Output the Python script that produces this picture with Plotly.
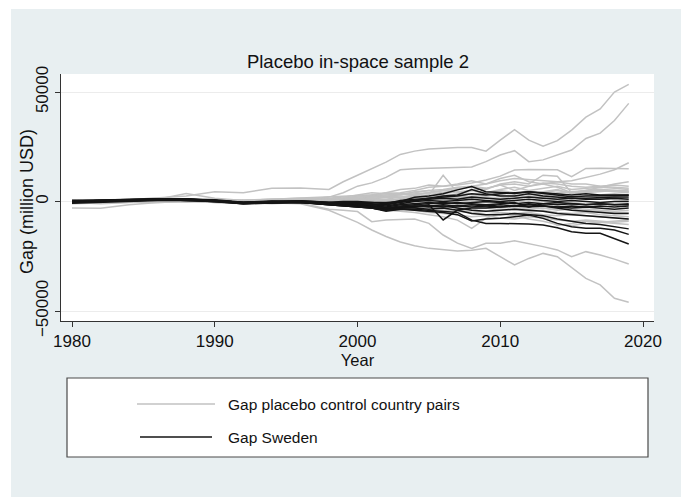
import plotly.graph_objects as go

# ---------------- data (values in thousand million USD) ----------------
years = [1980, 1982, 1984, 1986, 1988, 1990, 1992, 1994, 1996, 1998,
         1999, 2000, 2001, 2002, 2003, 2004, 2005, 2006, 2007, 2008,
         2009, 2010, 2011, 2012, 2013, 2014, 2015, 2016, 2017, 2018, 2019]

placebo_gaps = [
    [0.5, 0.3, 0.8, 1.5, 2.5, 4.5, 4.0, 6.0, 6.2, 5.5, 9, 12, 15, 18, 21.5, 23, 24, 24.5, 24.7, 24.7, 23, 28, 32.8, 28, 25.3, 27.8, 32.6, 38.5, 42.3, 50, 53.5],
    [-0.5, 0, 0.5, 0.8, 0.3, 0, -0.5, 0, 0.5, 2, 4, 7, 8.5, 11, 14.5, 15, 15.2, 15.1, 15.4, 15.8, 18.2, 21.2, 23.2, 18.2, 19, 21.2, 23.5, 28.8, 31.2, 37, 44.8],
    [0.3, 0.5, 0.2, -0.3, 0.5, 1, 0.5, 0.2, 0.8, 1, 1.5, 2, 2.5, 3, 3.5, 4, 5, 5.5, 6.5, 7, 8, 9.5, 10.5, 10, 9.5, 9, 9.5, 11, 12.5, 14.5, 17.7],
    [-0.3, 0.2, 0.5, 0.3, -0.2, 0.3, 0.8, 1, 0.5, 1.5, 2, 3, 4, 3.5, 4, 5, 6.5, 7, 7.5, 8.5, 9.8, 11.6, 14.4, 14.6, 14.7, 14.5, 11.3, 15.1, 15.2, 15, 15],
    [0.2, -0.3, 0.3, 0.5, 0.8, 0.2, -0.2, 0.5, 1, 0.5, 1, 1.5, 2, 2.5, 3, 3.5, 4, 5, 6, 6.5, 5.5, 8, 9, 8, 12, 11.5, 4, 5, 6.5, 8, 9],
    [-0.5, -0.2, 0.3, 0.2, 0.5, -0.3, 0.2, 0.5, 0.3, 0.5, 0.5, 1, 1, 0.5, 1, 2, 3, 12, 4, 5, 6, 7.5, 5, 7, 8, 6.5, 4, 5, 5.5, 5, 4.5],
    [0, -0.5, 0.5, 1, 3.7, 1.5, 0.5, 1, 1.5, 2, 2.5, 2.5, 3, 4, 5.5, 6, 7.5, 7, 8, 9.5, 8, 10.5, 12, 9, 8, 9, 8, 8, 7, 6.5, 6],
    [0.5, 0.8, 0.3, 0.5, 1, 0.5, 0, 0.3, 0.8, 1, 1.5, 1, 2, 2.5, 2, 3, 4, 3.5, 4.5, 5, 4, 5.5, 6.5, 5, 6, 7, 5.5, 6, 6.5, 6, 5.5],
    [-0.3, 0, 0.5, 0.8, 0.3, -0.2, -0.5, 0.2, 0.5, 0.3, 0.5, 1, 1.5, 1, 2, 2.5, 2, 3, 2.5, 3.5, 3, 4, 3.5, 4.5, 4, 5, 4, 4.5, 5, 4.5, 4],
    [0.8, 0.5, 0.2, 0.5, 1.2, 0.8, 0.3, 0.5, 0.2, 0.8, 1, 1.5, 1, 0.5, 1, 1.5, 2, 1.5, 2.5, 2, 3, 2.5, 3, 2, 2.5, 3, 2, 2.5, 3, 3.5, 3],
    [-1, -0.8, -0.3, 0, 0.5, 0.2, -0.3, -0.5, 0, -0.5, -0.5, 0, 0.5, 1, 0.5, 1, 1.5, 1, 2, 1.5, 2, 1.5, 2.5, 2, 1.5, 2, 1.5, 1, 1.5, 1, 0.5],
    [-3, -3.1, -1.5, -0.5, 0, -0.3, -0.8, -0.3, -0.5, -1, -1, -0.5, 0, -0.5, 0, 0.5, 0, 1, 0.5, 0, -0.5, 0, 0.5, -0.5, 0, -1, -0.5, -1, -1.5, -1, -1.5],
    [0.3, 0.5, 1, 1.5, 1, 0.5, 0, 0.5, 1, 0.5, 0, -0.5, -1, -1.5, -1, -2, -1.5, -2, -2.5, -2, -3, -2.5, -3, -3.5, -3, -4, -3.5, -4, -4.5, -5, -5],
    [-0.5, -1, -0.5, 0, 0.5, 0, -0.5, -1, -0.5, -1, -1.5, -2, -2.5, -2, -3, -3.5, -3, -4, -4.5, -5, -4.5, -5, -5.5, -5, -6, -6.5, -6, -6.5, -7, -7.5, -8],
    [0, -0.5, 0.3, 0.5, 0.2, -0.3, -0.5, 0, -0.3, -0.5, -1, -1.5, -3, -4, -4.5, -5, -6, -7, -8.5, -12.3, -7.7, -5.5, -6.5, -8, -9, -10.5, -11, -10, -9.5, -9, -8.5],
    [-0.5, -0.3, 0, 0.5, 0.3, 0, -0.5, -0.3, -0.8, -3.5, -4, -4.6, -9.2, -8.5, -8.2, -8, -10, -15.3, -19, -21.4, -19.1, -19.1, -17.9, -19.1, -20.6, -22.1, -25.2, -22.9, -24.4, -26.3, -28.5],
    [0.3, 0, -0.3, 0.2, 0.5, 0, -0.3, -0.5, -1, -4, -6.9, -9.5, -13, -16, -18.5, -20.2, -21.4, -22.1, -22.6, -22.3, -21.4, -25.2, -29, -26, -23.7, -25.2, -30, -35.1, -38.1, -44.2, -46],
    [0, 0.3, -0.3, -0.5, 0, 0.5, 0, -0.5, -0.3, -1, -1.5, -2.5, -3, -3.5, -3, -4, -5, -5.5, -6, -7, -6.5, -7.5, -8, -7, -7.5, -8.5, -9, -8.5, -9, -9.5, -9],
    [0.5, 0.2, 0, 0.3, 0.8, 0.3, 0, 0.2, 0.5, 0, -0.5, -1, -0.5, -1.5, -2, -1.5, -2.5, -2, -3, -3.5, -3, -4, -3.5, -4.5, -4, -5, -5.5, -5, -6, -6.5, -7],
    [-0.8, -0.5, 0, 0.3, 0.5, 0, 0.2, 0, 0.3, 0.5, 1, 0.5, 0, -0.5, 0.5, 0, 1, 0.5, 1.5, 1, 2, 1, 1.5, 2.5, 2, 1, 1.5, 2, 2.5, 2, 1.5],
    [0.2, 0.5, 0.8, 0.5, 0.3, 0.8, 0.5, 1, 1.5, 1, 1.5, 2.5, 3, 3.5, 3, 4.5, 5, 4, 5.5, 7, 6, 7.5, 8, 7, 8.5, 8, 7, 6.5, 7, 7.5, 7],
    [0, 0.3, 0.5, 0.2, 0.5, 0.3, -0.2, 0.2, 0, 0.5, 1, 2, 2.5, 4, 3.5, 3, 4, 5, 4.5, 3.5, 4, 5, 4, 3, 4.5, 5.5, 3.5, 4, 4.5, 5, 4.5],
    [-0.3, -0.5, -0.2, 0, 0.3, -0.5, -1, -0.5, 0, -0.5, -1, -1.5, -2, -3, -2.5, -3, -3.5, -4, -3.5, -5, -6, -5.5, -6, -5, -7, -11, -10, -9, -9.5, -10, -10.5],
    [0.5, 0.3, 0.5, 0.8, 0.5, 0.2, 0.5, 0.3, 0.5, 0.8, 0.5, 0.8, 1.5, 2, 1.5, 2.5, 3, 2.5, 3.5, 3, 2.5, 3.5, 4, 3.5, 3, 4, 4.5, 5, 5.5, 5, 5],
    [-0.5, -0.3, 0, 0.5, 0.8, 0.5, 0, -0.2, 0.3, 0, -0.5, -0.8, -1, -0.5, -1.5, -1, -2, -2.5, -2, -1.5, -2.5, -3, -2.5, -2, -3, -3.5, -3, -3.5, -4, -4.5, -4],
]

sweden_gaps = [
    [-0.5, 0, 0.5, 1, 0.5, 0.3, -0.8, -0.5, -0.3, -1.5, -2, -2.5, -3, -4.5, -3.5, -3.5, -4, -4.5, -5, -8.5, -10, -10, -10, -10.3, -10.7, -12, -13.8, -14.5, -14.5, -16.8, -19.4],
    [0.3, 0.5, 1, 1.2, 0.8, 0, -1, -0.3, -0.5, -1.5, -2, -2.5, -3, -4, -3.5, -4, -4.5, -5, -6, -8.9, -8, -7.7, -7, -6.2, -7.7, -10, -11.5, -12.2, -12.2, -13, -15],
    [-0.3, 0.2, 0.8, 0.8, 1, 0.5, -0.5, -0.5, 0, -1, -1.5, -1.5, -2.5, -3.5, -3, -3, -3.5, -3, -4, -5.5, -6, -6, -5.5, -6, -6.5, -8, -9, -10, -10.5, -11.5, -12.5],
    [0, 0.5, 0.5, 1, 1.2, 0.3, -0.8, -0.2, -0.2, -0.8, -1, -1.5, -2, -3, -2.5, -2, -2.5, -2, -3, -4, -4.5, -4, -3.5, -4, -4.5, -5.5, -6, -6.5, -7, -7.5, -8],
    [0.5, 0.3, 0.8, 1.2, 0.8, 0.5, -0.5, 0, -0.5, -1, -1.5, -1.5, -2, -3, -3, -2.5, -1.5, -8.4, -3.9, -3, -3, -2.5, -2, -1, -2, -3, -4, -4.5, -5, -5.5, -5.5],
    [-0.5, 0, 0.3, 0.8, 1, 0.2, -1, -0.5, -0.3, -1.2, -1.5, -2, -2.5, -3.5, -2.5, -2, -2, -1.5, -2, -2.5, -2, -1.5, -2, -2.5, -2, -2.5, -3, -2.5, -3, -3.5, -3],
    [0, 0.5, 0.5, 0.8, 0.8, 0.3, -0.8, -0.3, 0, -0.5, -1, -1.2, -2, -2.5, -1.5, -1, -0.5, -1, -0.5, -1, -1.5, -1, -0.5, -2.5, -1, -1.5, -1, -1.5, -1, -1.5, -1.5],
    [-0.2, 0.3, 0.8, 1, 0.5, 0, -0.6, -0.2, -0.2, -0.8, -1, -1, -1.5, -2, -1, 0, 0.5, 0, 0.5, 1, 0.5, 0, 0.5, 1, 0.5, 0, 0.5, 0, -0.5, 0, 0],
    [0.3, 0.3, 0.5, 0.8, 0.8, 0.5, -0.5, -0.3, 0.3, -0.5, -0.5, -1, -1, -1.5, -0.5, 0.5, 1, 1.5, 1, 2, 1.5, 1, 1.5, 2, 1.5, 1, 1.5, 1, 1, 1.5, 1],
    [-0.3, 0, 0.3, 0.5, 1, 0.3, -0.8, -0.5, -0.2, -1, -1, -1, -1.5, -1.5, 0, 0.5, 1.5, 2.5, 3, 5.5, 3.5, 2.5, 2.5, 3.5, 2.5, 2, 1.5, 1.5, 1.8, 2, 2],
    [0, 0.5, 0.3, 0.8, 1.2, 0.5, -0.5, 0, 0, -0.8, -0.5, -0.5, -0.5, -0.5, 0, 1.9, 2.5, 3.5, 5.3, 6.8, 4.5, 4, 3.7, 4.5, 3.7, 3, 2.2, 2.5, 2.5, 2.8, 2.8],
    [0.2, 0.5, 0.8, 1.2, 1, 0.8, -0.3, 0.2, 0.3, -0.3, 0, 0, -0.5, -1, 0.5, 1, 1.5, 2, 2.5, 3.5, 3, 3.5, 4, 4.5, 4, 3.5, 3, 3.5, 3, 3, 3],
    [-0.8, -0.3, 0.2, 0.5, 0.5, 0, -1, -0.6, -0.5, -1.5, -2, -2.5, -3, -4, -3, -2.5, -2, -2.5, -2, -1.5, -2, -2.5, -2, -1.5, -2, -2.5, -2, -2.5, -2, -2.5, -2],
    [0.5, 0.3, 0.5, 1, 0.8, 0.5, -0.4, 0, -0.2, -1, -1.5, -1.8, -2.5, -3, -2, -1.5, -1, -0.5, -1, -0.5, 0, -0.5, -1, -0.5, -1, -0.5, -1, -1.5, -1, -1.5, -1],
]

x_ticks = [1980, 1990, 2000, 2010, 2020]
y_ticks = [-50000, 0, 50000]
legend_labels = ["Gap placebo control country pairs", "Gap Sweden"]

# ---------------- style ----------------
BG = "#e8eff1"
GRAY = "#c2c2c2"
BLACK = "#151515"
FONT = "Liberation Sans, Arial, Helvetica, sans-serif"
TXT = "#111111"

# plot area in pixels (681 x 497 page)
L, R, T, B = 61, 654, 74, 321
W, H = 681, 497
pw, ph = R - L, B - T


def px_x(px):
    return (px - L) / pw


def px_y(py):
    return (B - py) / ph


fig = go.Figure()

for s in placebo_gaps:
    fig.add_trace(go.Scatter(x=years, y=[v * 1000 for v in s], mode="lines",
                             line=dict(color=GRAY, width=1.5),
                             showlegend=False, hoverinfo="skip"))
for s in sweden_gaps:
    fig.add_trace(go.Scatter(x=years, y=[v * 1000 for v in s], mode="lines",
                             line=dict(color=BLACK, width=1.5),
                             showlegend=False, hoverinfo="skip"))

shapes = [
    # white strips at top and left of the page
    dict(type="rect", xref="paper", yref="paper", x0=px_x(-5), x1=px_x(11),
         y0=px_y(H + 5), y1=px_y(-5), fillcolor="white", line_width=0, layer="below"),
    dict(type="rect", xref="paper", yref="paper", x0=px_x(-5), x1=px_x(W + 5),
         y0=px_y(9), y1=px_y(-5), fillcolor="white", line_width=0, layer="below"),
    # legend box
    dict(type="rect", xref="paper", yref="paper", x0=px_x(67), x1=px_x(648),
         y0=px_y(457), y1=px_y(378), fillcolor="white",
         line=dict(color="#4a4a4a", width=1.2)),
    # legend keys
    dict(type="line", xref="paper", yref="paper", x0=px_x(137), x1=px_x(215),
         y0=px_y(404), y1=px_y(404), line=dict(color=GRAY, width=1.5)),
    dict(type="line", xref="paper", yref="paper", x0=px_x(140), x1=px_x(212),
         y0=px_y(437), y1=px_y(437), line=dict(color=BLACK, width=1.5)),
]

annotations = [
    dict(text=legend_labels[0], xref="paper", yref="paper", x=px_x(226), y=px_y(404),
         xanchor="left", yanchor="middle", showarrow=False,
         font=dict(family=FONT, size=15.5, color=TXT)),
    dict(text=legend_labels[1], xref="paper", yref="paper", x=px_x(226), y=px_y(437),
         xanchor="left", yanchor="middle", showarrow=False,
         font=dict(family=FONT, size=15.5, color=TXT)),
    # y-axis title
    dict(text="Gap (million USD)", xref="paper", yref="paper", x=px_x(27), y=px_y(202),
         xanchor="center", yanchor="middle", textangle=-90, showarrow=False,
         font=dict(family=FONT, size=18, color=TXT)),
]

x0v = 1980 + (L - 72) / 14.275
x1v = 2020 + (R - 643) / 14.275
y_per_px = 100000 / 219.0
y1v = (201.5 - T) * y_per_px
y0v = (201.5 - B) * y_per_px

fig.update_layout(
    width=W, height=H,
    margin=dict(l=L, r=W - R, t=T, b=H - B),
    paper_bgcolor=BG, plot_bgcolor="white",
    font=dict(family=FONT, size=16, color=TXT),
    title=dict(text="Placebo in-space sample 2", x=358 / W,
               xanchor="center", y=1 - 62 / H, yanchor="middle",
               font=dict(family=FONT, size=18.5, color=TXT)),
    showlegend=False,
    shapes=shapes,
    annotations=annotations,
    xaxis=dict(range=[x0v, x1v], tickvals=x_ticks, ticks="outside", ticklen=5,
               tickcolor="#333", showline=True, linecolor="#333", linewidth=1,
               showgrid=False, zeroline=False, mirror=False,
               tickfont=dict(family=FONT, size=17, color=TXT),
               title=dict(text="Year", font=dict(family=FONT, size=16.5, color=TXT),
                          standoff=3)),
    yaxis=dict(range=[y0v, y1v], tickvals=y_ticks, ticks="outside", ticklen=5,
               tickcolor="#333", showline=True, linecolor="#333", linewidth=1,
               showgrid=True, gridcolor="#ececec", gridwidth=1,
               zeroline=True, zerolinecolor="#ececec", zerolinewidth=1,
               tickangle=-90, tickformat="d",
               tickfont=dict(family=FONT, size=17, color=TXT)),
)

fig.write_html("out.html")
